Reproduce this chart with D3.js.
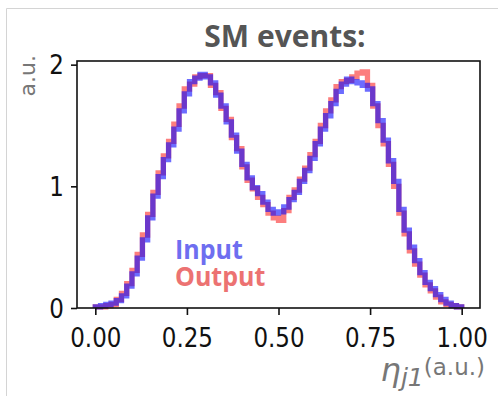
<!DOCTYPE html>
<html>
<head>
<meta charset="utf-8">
<script src="https://cdn.jsdelivr.net/npm/d3@7"></script>
<style>
  html, body { margin: 0; padding: 0; background: #fff; }
  svg { display: block; }
</style>
</head>
<body>
<svg id="chart" width="498" height="396"></svg>
<script>
// Normalised histogram of the leading-jet eta, 70 bins on [0, 1]
const binRange = [0, 1];
const binCount = 70;
const inputValues = [
  0.01, 0.02, 0.03, 0.04, 0.06, 0.10, 0.18, 0.28, 0.41, 0.56,
  0.74, 0.92, 1.08, 1.22, 1.34, 1.47, 1.62, 1.76, 1.86, 1.89,
  1.92, 1.90, 1.85, 1.75, 1.66, 1.53, 1.42, 1.29, 1.18, 1.07,
  0.99, 0.94, 0.87, 0.81, 0.78, 0.79, 0.83, 0.89, 0.95, 1.04,
  1.13, 1.23, 1.35, 1.47, 1.58, 1.68, 1.78, 1.84, 1.88, 1.86,
  1.85, 1.83, 1.80, 1.68, 1.54, 1.38, 1.21, 1.04, 0.81, 0.64,
  0.50, 0.39, 0.29, 0.21, 0.16, 0.11, 0.07, 0.04, 0.02, 0.01
];
const outputValues = [
  0.01, 0.01, 0.02, 0.03, 0.07, 0.12, 0.20, 0.31, 0.44, 0.60,
  0.77, 0.95, 1.11, 1.25, 1.37, 1.51, 1.66, 1.80, 1.84, 1.90,
  1.91, 1.91, 1.83, 1.77, 1.64, 1.55, 1.40, 1.31, 1.16, 1.05,
  0.98, 0.91, 0.85, 0.78, 0.74, 0.72, 0.80, 0.91, 0.97, 1.06,
  1.15, 1.26, 1.37, 1.50, 1.62, 1.71, 1.82, 1.86, 1.87, 1.90,
  1.93, 1.94, 1.83, 1.66, 1.50, 1.35, 1.18, 1.00, 0.78, 0.61,
  0.47, 0.36, 0.27, 0.19, 0.14, 0.09, 0.05, 0.03, 0.02, 0.01
];
const xTicks = [0, 0.25, 0.5, 0.75, 1];
const xTickLabels = ["0.00", "0.25", "0.50", "0.75", "1.00"];
const yTicks = [0, 1, 2];
const yTickLabels = ["0", "1", "2"];
const seriesNames = ["Input", "Output"];

const svg = d3.select("#chart");

// outer frame (top and left edges)
svg.append("path")
  .attr("d", "M6.5,396 V8.5 H498")
  .attr("fill", "none")
  .attr("stroke", "#d4d4d4")
  .attr("stroke-width", 1);

const plot = { left: 77, right: 480, top: 61, bottom: 308 };

const x = d3.scaleLinear().domain([-0.05, 1.05]).range([plot.left, plot.right]);
const y = d3.scaleLinear().domain([0, 2.03]).range([plot.bottom, plot.top]);

const binWidth = (binRange[1] - binRange[0]) / binCount;
function stepPoints(values) {
  const pts = [[binRange[0], 0]];
  values.forEach((v, i) => pts.push([binRange[0] + i * binWidth, v]));
  pts.push([binRange[1], 0]);
  return pts;
}

const line = d3.line()
  .x(d => x(d[0]))
  .y(d => y(d[1]))
  .curve(d3.curveStepAfter);

const seriesDefs = [
  { values: outputValues, color: "rgb(250,20,20)", opacity: 0.55 },
  { values: inputValues, color: "rgb(10,10,255)", opacity: 0.6 }
];
seriesDefs.forEach(s => {
  svg.append("path")
    .attr("d", line(stepPoints(s.values)))
    .attr("fill", "none")
    .attr("stroke", s.color)
    .attr("stroke-opacity", s.opacity)
    .attr("stroke-width", 5.3)
    .attr("stroke-linejoin", "miter");
});

// axes box
svg.append("rect")
  .attr("x", plot.left).attr("y", plot.top)
  .attr("width", plot.right - plot.left).attr("height", plot.bottom - plot.top)
  .attr("fill", "none").attr("stroke", "#111").attr("stroke-width", 1.6);

const tickFont = "DejaVu Sans, sans-serif";

const xAxis = d3.axisBottom(x).tickValues(xTicks)
  .tickFormat((d, i) => xTickLabels[i]).tickSize(7).tickPadding(6);
const gx = svg.append("g").attr("transform", `translate(0,${plot.bottom})`).call(xAxis);
gx.select(".domain").remove();
gx.selectAll(".tick line").attr("stroke", "#111").attr("stroke-width", 1.6);
gx.selectAll(".tick text")
  .attr("font-family", tickFont).attr("font-size", 23).attr("fill", "#111")
  .attr("dy", null).attr("y", 0)
  .attr("transform", "translate(0,39) scale(1,1.15)");

const yAxis = d3.axisLeft(y).tickValues(yTicks)
  .tickFormat((d, i) => yTickLabels[i]).tickSize(6).tickPadding(6);
const gy = svg.append("g").attr("transform", `translate(${plot.left},0)`).call(yAxis);
gy.select(".domain").remove();
gy.selectAll(".tick line").attr("stroke", "#111").attr("stroke-width", 1.6);
gy.selectAll(".tick text")
  .attr("font-family", tickFont).attr("font-size", 23).attr("fill", "#111")
  .attr("dy", null).attr("y", 0).attr("x", 0)
  .attr("text-anchor", "end")
  .attr("transform", "translate(-13,9) scale(1,1.15)");

// title
svg.append("text")
  .attr("x", 285).attr("y", 47)
  .attr("text-anchor", "middle")
  .attr("font-family", "Open Sans, sans-serif")
  .attr("font-weight", "bold")
  .attr("font-size", 30)
  .attr("fill", "#555")
  .text("SM events:");

// y label
svg.append("text")
  .attr("transform", "translate(35,55) rotate(-90)")
  .attr("text-anchor", "end")
  .attr("font-family", "DejaVu Sans, sans-serif")
  .attr("font-size", 22)
  .attr("fill", "#777")
  .text("a.u.");

// x label
const xl = svg.append("text")
  .attr("x", 485).attr("y", 381)
  .attr("text-anchor", "end")
  .attr("font-family", "DejaVu Sans, sans-serif")
  .attr("fill", "#777");
xl.append("tspan").attr("font-style", "italic").attr("font-size", 32).text("η");
xl.append("tspan").attr("font-style", "italic").attr("font-size", 25).attr("dy", 5).text("j1");
xl.append("tspan").attr("font-size", 23).attr("dy", -11).text("(a.u.)");

// legend text
const legendColors = ["#6e6ef0", "#ec7272"];
seriesNames.forEach((name, i) => {
  svg.append("text")
    .attr("x", 175).attr("y", 0)
    .attr("transform", `translate(0,${259 + i * 27}) scale(1,1.1)`)
    .attr("font-family", "Open Sans, sans-serif")
    .attr("font-weight", "bold")
    .attr("font-size", 25)
    .attr("fill", legendColors[i])
    .text(name);
});
</script>
</body>
</html>
